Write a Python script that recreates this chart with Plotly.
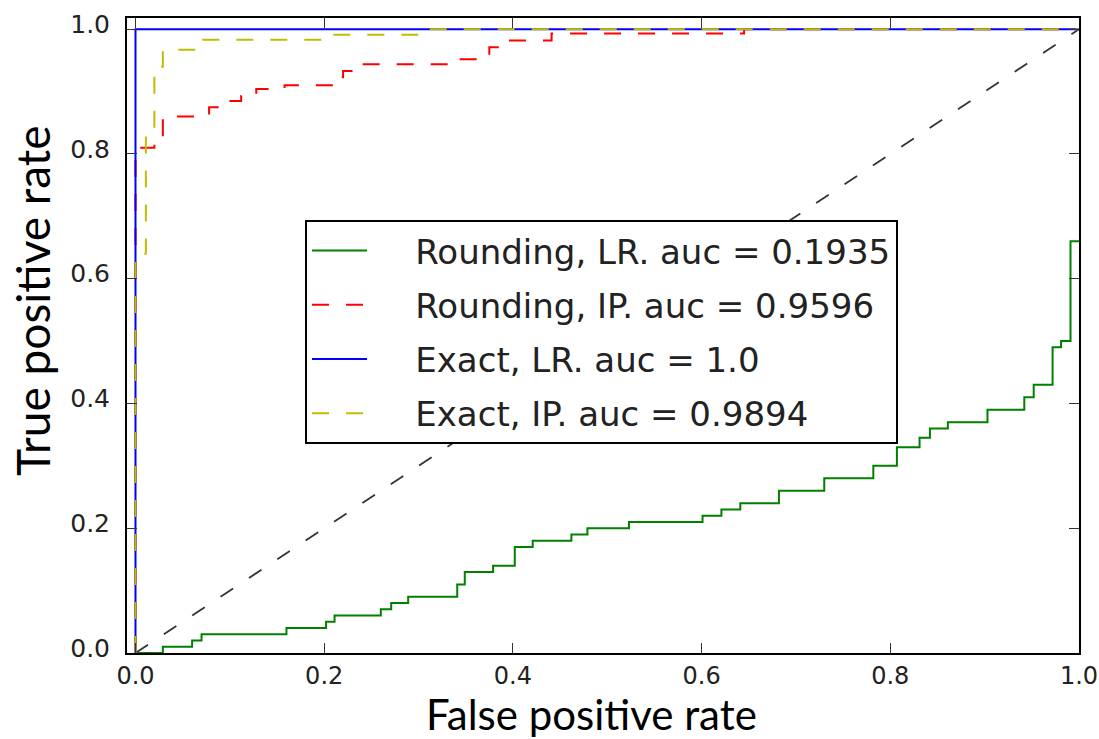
import plotly.graph_objects as go

# ---- data ----
green_fpr = [0.0, 0.029, 0.060, 0.070, 0.160, 0.202, 0.211, 0.260, 0.271, 0.289, 0.341, 0.349, 0.379,
             0.402, 0.421, 0.462, 0.479, 0.523, 0.601, 0.621, 0.641, 0.682, 0.730, 0.782, 0.807,
             0.831, 0.842, 0.861, 0.903, 0.942, 0.952, 0.972, 0.981, 0.991, 1.0]
green_tpr = [0.0, 0.01, 0.02, 0.03, 0.04, 0.05, 0.06, 0.07, 0.08, 0.09, 0.11, 0.13, 0.14,
             0.17, 0.18, 0.19, 0.20, 0.21, 0.22, 0.23, 0.24, 0.26, 0.28, 0.30, 0.33,
             0.345, 0.36, 0.37, 0.39, 0.41, 0.43, 0.49, 0.50, 0.66, 0.66]

red_fpr = [0.0, 0.0, 0.020, 0.029, 0.078, 0.091, 0.112, 0.128, 0.158, 0.212, 0.220, 0.235,
           0.331, 0.375, 0.392, 0.441, 0.645, 1.0]
red_tpr = [0.0, 0.81, 0.83, 0.86, 0.875, 0.885, 0.893, 0.904, 0.910, 0.923, 0.933, 0.944,
           0.952, 0.971, 0.982, 0.993, 1.0, 1.0]

blue_fpr = [0.0, 0.0, 1.0]
blue_tpr = [0.0, 1.0, 1.0]

yellow_fpr = [0.0, 0.0, 0.011, 0.020, 0.029, 0.069, 0.201, 0.303, 1.0]
yellow_tpr = [0.0, 0.64, 0.83, 0.94, 0.967, 0.983, 0.991, 1.0, 1.0]

diag = [0.0, 1.0]

names = ["Rounding, LR. auc = 0.1935", "Rounding, IP. auc = 0.9596",
         "Exact, LR. auc = 1.0", "Exact, IP. auc = 0.9894"]
x_ticks = [0.0, 0.2, 0.4, 0.6, 0.8, 1.0]
y_ticks = [0.0, 0.2, 0.4, 0.6, 0.8, 1.0]

pad = "\u00a0" * 4

fig = go.Figure()
fig.add_trace(go.Scatter(x=diag, y=diag, mode="lines", showlegend=False,
                         line=dict(color="#333333", width=1.8, dash="15px,19px")))
fig.add_trace(go.Scatter(x=green_fpr, y=green_tpr, mode="lines", name=pad + names[0], legendgroup="a",
                         line=dict(color="#008000", width=2, shape="hv")))
fig.add_trace(go.Scatter(x=red_fpr, y=red_tpr, mode="lines", name=pad + names[1], legendgroup="b",
                         line=dict(color="#ff0000", width=2, shape="hv", dash="17px,17px")))
fig.add_trace(go.Scatter(x=blue_fpr, y=blue_tpr, mode="lines", name=pad + names[2], legendgroup="c",
                         line=dict(color="#0000ff", width=2, shape="hv")))
fig.add_trace(go.Scatter(x=yellow_fpr, y=yellow_tpr, mode="lines", name=pad + names[3], legendgroup="d",
                         line=dict(color="#bfbf00", width=2, shape="hv", dash="17px,17px")))

axis_common = dict(showgrid=False, zeroline=False, showline=True, linecolor="black", linewidth=2,
                   mirror="allticks", ticks="inside", ticklen=10, tickwidth=1, tickcolor="#333333",
                   automargin=False)
fig.update_xaxes(range=[-0.009, 1.0], tickvals=x_ticks, ticktext=[f"{v:.1f}" for v in x_ticks],
                 tickfont=dict(family="DejaVu Sans", size=24, color="#222222"), **axis_common)
fig.update_yaxes(range=[0.0, 1.018], tickvals=y_ticks, ticktext=[f"{v:.1f}" for v in y_ticks],
                 tickfont=dict(family="DejaVu Sans", size=25, color="#222222"),
                 ticklabelstandoff=10, ticklabelshift=-5, **axis_common)

fig.add_annotation(text="False positive rate", xref="paper", yref="paper", x=0.488, y=-0.0962,
                   xanchor="center", yanchor="middle", showarrow=False,
                   font=dict(family="Lato", size=42, color="black"))
fig.add_annotation(text="True positive rate", xref="paper", yref="paper", x=-0.1, y=0.554,
                   xanchor="center", yanchor="middle", showarrow=False, textangle=-90,
                   font=dict(family="Lato", size=46, color="black"))

fig.update_layout(
    width=1099, height=739,
    margin=dict(l=127, r=20, t=18, b=86, autoexpand=False),
    paper_bgcolor="white", plot_bgcolor="white",
    legend=dict(x=0.187, y=0.682, xanchor="left", yanchor="top",
                bgcolor="white", bordercolor="black", borderwidth=2,
                font=dict(family="DejaVu Sans", size=34, color="#222222"),
                traceorder="grouped", tracegroupgap=7, itemwidth=55),
)

fig.write_html("out.html", config={"displayModeBar": False},
               post_script="document.body.style.margin='0';")
